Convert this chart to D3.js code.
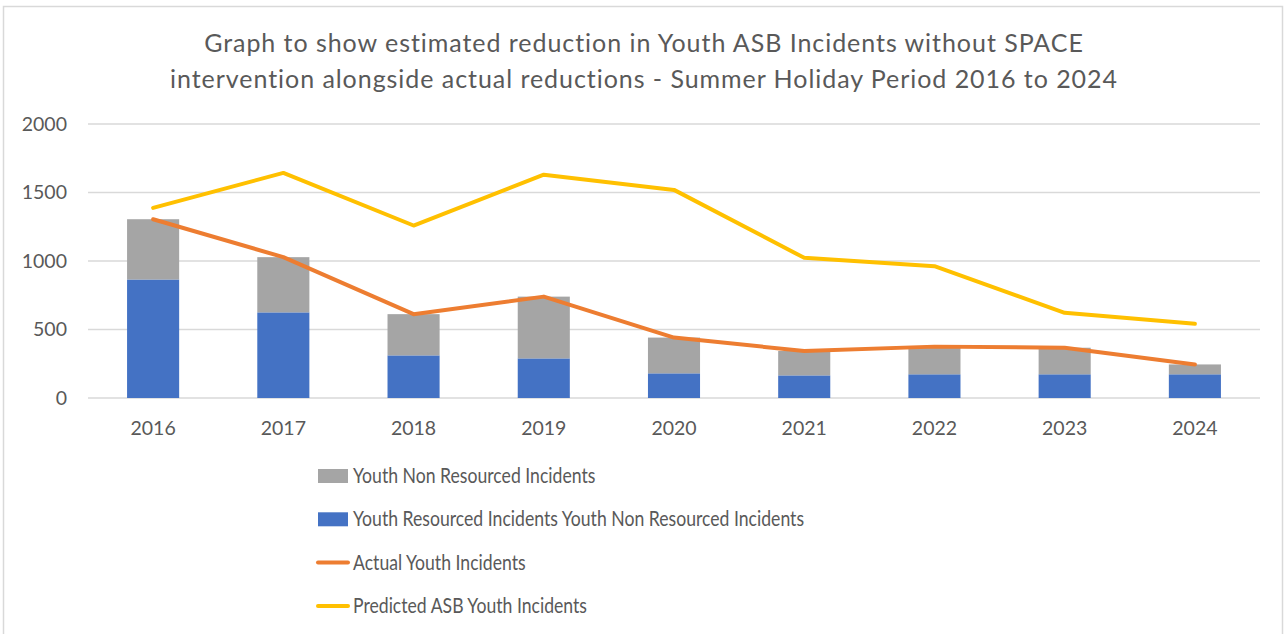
<!DOCTYPE html>
<html>
<head>
<meta charset="utf-8">
<script src="https://cdn.jsdelivr.net/npm/d3@7"></script>
<style>
  body { margin: 0; background: #fff; }
  text { font-family: Lato, "Noto Sans", sans-serif; fill: #595959; }
</style>
</head>
<body>
<svg id="chart"></svg>
<script>
/**
 * Chart data
 */
var years = ["2016", "2017", "2018", "2019", "2020", "2021", "2022", "2023", "2024"];
var resourced = [865, 625, 311, 289, 180, 165, 173, 173, 173];
var nonResourced = [440, 403, 301, 451, 261, 178, 202, 194, 72];
var actual = [1305, 1028, 612, 740, 441, 343, 375, 367, 245];
var predicted = [1388, 1643, 1259, 1630, 1519, 1023, 962, 622, 542];
var yTicks = [0, 500, 1000, 1500, 2000];
var titleLines = [
    "Graph to show estimated reduction in Youth ASB Incidents without SPACE",
    "intervention alongside actual reductions - Summer Holiday Period 2016 to 2024"
];
var legendItems = [
    {label: "Youth Non Resourced Incidents", type: "rect", color: "#A5A5A5"},
    {label: "Youth Resourced Incidents Youth Non Resourced Incidents", type: "rect", color: "#4472C4"},
    {label: "Actual Youth Incidents", type: "line", color: "#ED7D31"},
    {label: "Predicted ASB Youth Incidents", type: "line", color: "#FFC000"}
];

var width = 1288, height = 634;
var margin = {top: 124, bottom: 236, left: 88, right: 28};

var svg = d3.select("#chart")
    .attr("width", width)
    .attr("height", height);

// outer border like the spreadsheet chart area
svg.append("rect")
    .attr("x", 3.5).attr("y", 6.5)
    .attr("width", 1279).attr("height", 640)
    .style("fill", "#fff")
    .style("stroke", "#D9D9D9")
    .style("stroke-width", 1.5);

// title
svg.selectAll("text.title")
    .data(titleLines)
    .enter()
    .append("text")
    .attr("class", "title")
    .attr("x", 644)
    .attr("y", function(d, i){ return 52 + i * 36; })
    .attr("text-anchor", "middle")
    .style("font-size", "25px")
    .style("letter-spacing", "0.95px")
    .text(function(d){ return d; });

var xScale = d3.scaleBand()
    .domain(years)
    .range([margin.left, width - margin.right])
    .paddingInner(0.6)
    .paddingOuter(0.3);

var yScale = d3.scaleLinear()
    .domain([0, 2000])
    .range([height - margin.bottom, margin.top]);

// gridlines
svg.append("g")
    .selectAll("line")
    .data(yTicks)
    .enter()
    .append("line")
    .attr("x1", margin.left)
    .attr("x2", width - margin.right)
    .attr("y1", function(d){ return yScale(d); })
    .attr("y2", function(d){ return yScale(d); })
    .style("stroke", "#D9D9D9")
    .style("stroke-width", 1.5);

// y axis labels
var yAxis = d3.axisLeft(yScale).tickValues(yTicks).tickFormat(d3.format("d")).tickSize(0).tickPadding(0);
svg.append("g")
    .attr("transform", "translate(67,0)")
    .call(yAxis)
    .call(function(g){ g.select(".domain").remove(); })
    .selectAll("text")
    .style("font-size", "19.5px")
    .style("font-family", "Lato, sans-serif")
    .attr("fill", "#595959");

// x axis labels
var xAxis = d3.axisBottom(xScale).tickSize(0).tickPadding(0);
svg.append("g")
    .attr("transform", "translate(0," + (yScale(0) + 23) + ")")
    .call(xAxis)
    .call(function(g){ g.select(".domain").remove(); })
    .selectAll("text")
    .style("font-size", "19.5px")
    .style("font-family", "Lato, sans-serif")
    .attr("fill", "#595959");

// stacked bars
var stackData = years.map(function(y, i){
    return {year: y, resourced: resourced[i], nonResourced: nonResourced[i]};
});
var series = d3.stack().keys(["resourced", "nonResourced"])(stackData);
var barColor = {resourced: "#4472C4", nonResourced: "#A5A5A5"};

svg.append("g")
    .selectAll("g")
    .data(series)
    .enter()
    .append("g")
    .style("fill", function(d){ return barColor[d.key]; })
    .selectAll("rect")
    .data(function(d){ return d; })
    .enter()
    .append("rect")
    .attr("x", function(d){ return xScale(d.data.year); })
    .attr("y", function(d){ return yScale(d[1]); })
    .attr("width", xScale.bandwidth())
    .attr("height", function(d){ return yScale(d[0]) - yScale(d[1]); });

// lines
var line = d3.line()
    .x(function(d, i){ return xScale(years[i]) + xScale.bandwidth() / 2; })
    .y(function(d){ return yScale(d); });

svg.append("path")
    .datum(actual)
    .attr("d", line)
    .style("fill", "none")
    .style("stroke", "#ED7D31")
    .style("stroke-width", 4)
    .style("stroke-linecap", "round")
    .style("stroke-linejoin", "round");

svg.append("path")
    .datum(predicted)
    .attr("d", line)
    .style("fill", "none")
    .style("stroke", "#FFC000")
    .style("stroke-width", 4)
    .style("stroke-linecap", "round")
    .style("stroke-linejoin", "round");

// legend
var legend = svg.append("g")
    .selectAll("g")
    .data(legendItems)
    .enter()
    .append("g")
    .attr("transform", function(d, i){ return "translate(318," + (476 + i * 43.3) + ")"; });

legend.filter(function(d){ return d.type === "rect"; })
    .append("rect")
    .attr("x", 0).attr("y", -7)
    .attr("width", 30).attr("height", 14)
    .style("fill", function(d){ return d.color; });

legend.filter(function(d){ return d.type === "line"; })
    .append("line")
    .attr("x1", 0).attr("x2", 30)
    .attr("y1", 0).attr("y2", 0)
    .style("stroke", function(d){ return d.color; })
    .style("stroke-width", 4)
    .style("stroke-linecap", "round");

// legend text is a bit condensed in the original
legend.append("text")
    .attr("transform", "translate(35,0) scale(0.86,1)")
    .attr("dy", "0.35em")
    .style("font-size", "20.5px")
    .text(function(d){ return d.label; });
</script>
</body>
</html>
